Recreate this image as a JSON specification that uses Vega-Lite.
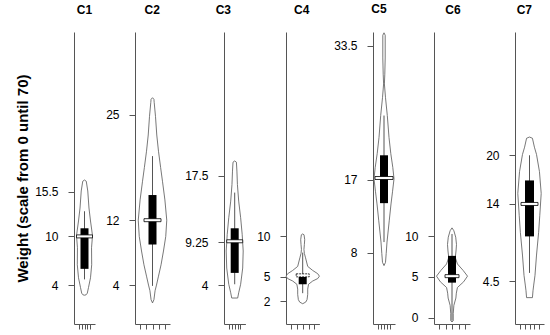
{
  "$schema": "https://vega.github.io/schema/vega-lite/v6.json",
  "padding": {"left": 15, "top": 3, "right": 0, "bottom": 0},
  "bounds": "flush",
  "spacing": 0,
  "datasets": {
    "violin": [
      {"g":"C1","v":16.95,"d":0},{"g":"C1","v":16.8,"d":0.22},{"g":"C1","v":15.6,"d":0.41},{"g":"C1","v":13.5,"d":0.56},{"g":"C1","v":11.9,"d":0.75},{"g":"C1","v":10.1,"d":1.0},{"g":"C1","v":8.6,"d":0.88},{"g":"C1","v":6.5,"d":0.9},{"g":"C1","v":4.9,"d":0.75},{"g":"C1","v":3.7,"d":0.5},{"g":"C1","v":3.0,"d":0.35},{"g":"C1","v":2.8,"d":0.2},{"g":"C1","v":2.75,"d":0},
      {"g":"C2","v":27.1,"d":0},{"g":"C2","v":26.9,"d":0.1},{"g":"C2","v":26.5,"d":0.12},{"g":"C2","v":24.8,"d":0.21},{"g":"C2","v":22.5,"d":0.3},{"g":"C2","v":20.5,"d":0.42},{"g":"C2","v":18.5,"d":0.57},{"g":"C2","v":16.8,"d":0.7},{"g":"C2","v":14.5,"d":0.87},{"g":"C2","v":12,"d":1.0},{"g":"C2","v":10,"d":0.93},{"g":"C2","v":8.2,"d":0.77},{"g":"C2","v":6.5,"d":0.6},{"g":"C2","v":5.1,"d":0.42},{"g":"C2","v":4,"d":0.28},{"g":"C2","v":3.3,"d":0.18},{"g":"C2","v":2.2,"d":0.1},{"g":"C2","v":1.8,"d":0},
      {"g":"C3","v":19.3,"d":0},{"g":"C3","v":19.15,"d":0.2},{"g":"C3","v":18.05,"d":0.26},{"g":"C3","v":16.4,"d":0.32},{"g":"C3","v":14.35,"d":0.47},{"g":"C3","v":12.3,"d":0.7},{"g":"C3","v":10.25,"d":0.88},{"g":"C3","v":8.2,"d":1.0},{"g":"C3","v":6.1,"d":0.94},{"g":"C3","v":4.1,"d":0.7},{"g":"C3","v":3.05,"d":0.47},{"g":"C3","v":2.4,"d":0.35},
      {"g":"C4","v":10.3,"d":0},{"g":"C4","v":10.2,"d":0.08},{"g":"C4","v":9.6,"d":0.12},{"g":"C4","v":9.0,"d":0.1},{"g":"C4","v":8.4,"d":0.075},{"g":"C4","v":7.9,"d":0.1},{"g":"C4","v":7.36,"d":0.17},{"g":"C4","v":6.3,"d":0.3},{"g":"C4","v":5.8,"d":0.6},{"g":"C4","v":5.4,"d":0.9},{"g":"C4","v":5.1,"d":1.0},{"g":"C4","v":4.8,"d":0.9},{"g":"C4","v":4.5,"d":0.6},{"g":"C4","v":4.1,"d":0.35},{"g":"C4","v":3.5,"d":0.3},{"g":"C4","v":2.85,"d":0.3},{"g":"C4","v":2.2,"d":0.26},{"g":"C4","v":1.9,"d":0.18},{"g":"C4","v":1.7,"d":0},
      {"g":"C5","v":35.1,"d":0},{"g":"C5","v":34.8,"d":0.12},{"g":"C5","v":32,"d":0.12},{"g":"C5","v":30,"d":0.08},{"g":"C5","v":28.8,"d":0.04},{"g":"C5","v":27.1,"d":0.15},{"g":"C5","v":24.9,"d":0.33},{"g":"C5","v":22.2,"d":0.5},{"g":"C5","v":20.2,"d":0.68},{"g":"C5","v":18.5,"d":0.88},{"g":"C5","v":17.1,"d":1.0},{"g":"C5","v":15.5,"d":0.85},{"g":"C5","v":14,"d":0.7},{"g":"C5","v":12,"d":0.53},{"g":"C5","v":9.3,"d":0.3},{"g":"C5","v":7.9,"d":0.22},{"g":"C5","v":6.8,"d":0.15},{"g":"C5","v":6.4,"d":0},
      {"g":"C6","v":11.05,"d":0},{"g":"C6","v":10.7,"d":0.12},{"g":"C6","v":9.9,"d":0.24},{"g":"C6","v":9.0,"d":0.29},{"g":"C6","v":8.2,"d":0.26},{"g":"C6","v":7.4,"d":0.21},{"g":"C6","v":6.6,"d":0.35},{"g":"C6","v":5.8,"d":0.72},{"g":"C6","v":5.1,"d":1.0},{"g":"C6","v":4.4,"d":0.75},{"g":"C6","v":3.7,"d":0.35},{"g":"C6","v":3.0,"d":0.28},{"g":"C6","v":2.4,"d":0.25},{"g":"C6","v":1.5,"d":0.12},{"g":"C6","v":0.5,"d":0.08},{"g":"C6","v":-0.4,"d":0.08},{"g":"C6","v":-0.55,"d":0},
      {"g":"C7","v":22.25,"d":0},{"g":"C7","v":22.1,"d":0.25},{"g":"C7","v":21,"d":0.42},{"g":"C7","v":20.1,"d":0.6},{"g":"C7","v":18,"d":0.85},{"g":"C7","v":15.3,"d":1.0},{"g":"C7","v":12.6,"d":0.88},{"g":"C7","v":10.5,"d":0.78},{"g":"C7","v":7.7,"d":0.6},{"g":"C7","v":5.2,"d":0.47},{"g":"C7","v":4.0,"d":0.36},{"g":"C7","v":3.3,"d":0.3},{"g":"C7","v":2.45,"d":0.25}
    ],
    "stats": [
      {"g":"C1","lo":4.7,"q1":6.0,"med":10.0,"q3":11.0,"hi":13.1},
      {"g":"C2","lo":3.9,"q1":9.0,"med":12.0,"q3":15.1,"hi":19.9},
      {"g":"C3","lo":4.1,"q1":5.5,"med":9.4,"q3":11.0,"hi":15.4},
      {"g":"C4","lo":3.0,"q1":4.1,"med":5.2,"q3":5.0,"hi":8.0},
      {"g":"C5","lo":9.3,"q1":14.1,"med":17.2,"q3":20.0,"hi":24.9},
      {"g":"C6","lo":-0.4,"q1":4.3,"med":5.1,"q3":7.6,"hi":10.3},
      {"g":"C7","lo":5.5,"q1":10.0,"med":14.0,"q3":16.9,"hi":20.0}
    ]
  },
  "hconcat": [
    {
      "width": 60.8, "height": 292,
      "title": {"text": "C1", "dx": -19.9},
      "resolve": {"scale": {"x": "independent"}},
      "layer": [
        {
          "data": {"name": "violin"},
          "transform": [{"filter": "datum.g == 'C1'"}],
          "mark": {"type": "area", "orient": "horizontal", "fill": "white", "stroke": "#555", "strokeWidth": 0.8},
          "encoding": {
            "y": {"field": "v", "type": "quantitative", "scale": {"domain": [-0.8, 35.2], "nice": false, "zero": false},
                  "axis": {"values": [4, 10, 15.5], "format": ".4~g", "title": "Weight (scale from 0 until 70)"}},
            "x": {"field": "d", "type": "quantitative", "stack": "center", "scale": {"domain": [0, 1], "range": [2.5, 18.5], "nice": false, "zero": false}, "axis": null}
          }
        },
        {
          "data": {"name": "stats"},
          "transform": [{"filter": "datum.g == 'C1'"}],
          "encoding": {"x": {"datum": 2, "type": "quantitative", "scale": {"domain": [0, 4], "range": [0, 21], "nice": false, "zero": false},
                             "axis": {"values": [0, 1, 2, 3, 4], "labels": false, "title": null}}},
          "layer": [
            {"mark": {"type": "rule", "color": "#555", "strokeWidth": 1}, "encoding": {"y": {"field": "lo", "type": "quantitative", "scale": {"domain": [-0.8, 35.2], "nice": false, "zero": false}, "axis": {"values": [4, 10, 15.5], "format": ".4~g", "title": "Weight (scale from 0 until 70)"}}, "y2": {"field": "hi"}}},
            {"mark": {"type": "bar", "color": "#000", "size": 8}, "encoding": {"y": {"field": "q1", "type": "quantitative", "scale": {"domain": [-0.8, 35.2], "nice": false, "zero": false}, "axis": {"values": [4, 10, 15.5], "format": ".4~g", "title": "Weight (scale from 0 until 70)"}}, "y2": {"field": "q3"}}},
            {"mark": {"type": "tick", "orient": "horizontal", "color": "white", "stroke": "#000", "strokeWidth": 0.8, "opacity": 1, "size": 16, "thickness": 3}, "encoding": {"y": {"field": "med", "type": "quantitative", "scale": {"domain": [-0.8, 35.2], "nice": false, "zero": false}, "axis": {"values": [4, 10, 15.5], "format": ".4~g", "title": "Weight (scale from 0 until 70)"}}}}
          ]
        }
      ]
    },
    {
      "width": 88.4, "height": 292,
      "title": {"text": "C2", "dx": -27},
      "resolve": {"scale": {"x": "independent"}},
      "layer": [
        {
          "data": {"name": "violin"},
          "transform": [{"filter": "datum.g == 'C2'"}],
          "mark": {"type": "area", "orient": "horizontal", "fill": "white", "stroke": "#555", "strokeWidth": 0.8},
          "encoding": {
            "y": {"field": "v", "type": "quantitative", "scale": {"domain": [-0.8, 35.2], "nice": false, "zero": false},
                  "axis": {"values": [4, 12, 25], "format": ".4~g", "title": null}},
            "x": {"field": "d", "type": "quantitative", "stack": "center", "scale": {"domain": [0, 1], "range": [3.25, 31.75], "nice": false, "zero": false}, "axis": null}
          }
        },
        {
          "data": {"name": "stats"},
          "transform": [{"filter": "datum.g == 'C2'"}],
          "encoding": {"x": {"datum": 2, "type": "quantitative", "scale": {"domain": [0, 4], "range": [0, 35], "nice": false, "zero": false},
                             "axis": {"values": [0, 1, 2, 3, 4], "labels": false, "title": null}}},
          "layer": [
            {"mark": {"type": "rule", "color": "#555", "strokeWidth": 1}, "encoding": {"y": {"field": "lo", "type": "quantitative", "scale": {"domain": [-0.8, 35.2], "nice": false, "zero": false}, "axis": {"values": [4, 12, 25], "format": ".4~g", "title": null}}, "y2": {"field": "hi"}}},
            {"mark": {"type": "bar", "color": "#000", "size": 8}, "encoding": {"y": {"field": "q1", "type": "quantitative", "scale": {"domain": [-0.8, 35.2], "nice": false, "zero": false}, "axis": {"values": [4, 12, 25], "format": ".4~g", "title": null}}, "y2": {"field": "q3"}}},
            {"mark": {"type": "tick", "orient": "horizontal", "color": "white", "stroke": "#000", "strokeWidth": 0.8, "opacity": 1, "size": 17, "thickness": 3}, "encoding": {"y": {"field": "med", "type": "quantitative", "scale": {"domain": [-0.8, 35.2], "nice": false, "zero": false}, "axis": {"values": [4, 12, 25], "format": ".4~g", "title": null}}}}
          ]
        }
      ]
    },
    {
      "width": 61.6, "height": 292,
      "title": {"text": "C3", "dx": -31.5},
      "resolve": {"scale": {"x": "independent"}},
      "layer": [
        {
          "data": {"name": "violin"},
          "transform": [{"filter": "datum.g == 'C3'"}],
          "mark": {"type": "area", "orient": "horizontal", "fill": "white", "stroke": "#555", "strokeWidth": 0.8},
          "encoding": {
            "y": {"field": "v", "type": "quantitative", "scale": {"domain": [-0.8, 35.2], "nice": false, "zero": false},
                  "axis": {"values": [4, 9.25, 17.5], "format": ".4~g", "title": null}},
            "x": {"field": "d", "type": "quantitative", "stack": "center", "scale": {"domain": [0, 1], "range": [2.2, 19.2], "nice": false, "zero": false}, "axis": null}
          }
        },
        {
          "data": {"name": "stats"},
          "transform": [{"filter": "datum.g == 'C3'"}],
          "encoding": {"x": {"datum": 2, "type": "quantitative", "scale": {"domain": [0, 4], "range": [0, 21.4], "nice": false, "zero": false},
                             "axis": {"values": [0, 1, 2, 3, 4], "labels": false, "title": null}}},
          "layer": [
            {"mark": {"type": "rule", "color": "#555", "strokeWidth": 1}, "encoding": {"y": {"field": "lo", "type": "quantitative", "scale": {"domain": [-0.8, 35.2], "nice": false, "zero": false}, "axis": {"values": [4, 9.25, 17.5], "format": ".4~g", "title": null}}, "y2": {"field": "hi"}}},
            {"mark": {"type": "bar", "color": "#000", "size": 8}, "encoding": {"y": {"field": "q1", "type": "quantitative", "scale": {"domain": [-0.8, 35.2], "nice": false, "zero": false}, "axis": {"values": [4, 9.25, 17.5], "format": ".4~g", "title": null}}, "y2": {"field": "q3"}}},
            {"mark": {"type": "tick", "orient": "horizontal", "color": "white", "stroke": "#000", "strokeWidth": 0.8, "opacity": 1, "size": 16, "thickness": 3}, "encoding": {"y": {"field": "med", "type": "quantitative", "scale": {"domain": [-0.8, 35.2], "nice": false, "zero": false}, "axis": {"values": [4, 9.25, 17.5], "format": ".4~g", "title": null}}}}
          ]
        }
      ]
    },
    {
      "width": 86.7, "height": 292,
      "title": {"text": "C4", "dx": -27.65},
      "resolve": {"scale": {"x": "independent"}},
      "layer": [
        {
          "data": {"name": "violin"},
          "transform": [{"filter": "datum.g == 'C4'"}],
          "mark": {"type": "area", "orient": "horizontal", "fill": "white", "stroke": "#555", "strokeWidth": 0.8},
          "encoding": {
            "y": {"field": "v", "type": "quantitative", "scale": {"domain": [-0.8, 35.2], "nice": false, "zero": false},
                  "axis": {"values": [2, 5, 10], "format": ".4~g", "title": null}},
            "x": {"field": "d", "type": "quantitative", "stack": "center", "scale": {"domain": [0, 1], "range": [0, 33.4], "nice": false, "zero": false}, "axis": null}
          }
        },
        {
          "data": {"name": "stats"},
          "transform": [{"filter": "datum.g == 'C4'"}],
          "encoding": {"x": {"datum": 2, "type": "quantitative", "scale": {"domain": [0, 4], "range": [0, 33.4], "nice": false, "zero": false},
                             "axis": {"values": [0, 1, 2, 3, 4], "labels": false, "title": null}}},
          "layer": [
            {"mark": {"type": "rule", "color": "#555", "strokeWidth": 1}, "encoding": {"y": {"field": "lo", "type": "quantitative", "scale": {"domain": [-0.8, 35.2], "nice": false, "zero": false}, "axis": {"values": [2, 5, 10], "format": ".4~g", "title": null}}, "y2": {"field": "hi"}}},
            {"mark": {"type": "bar", "color": "#000", "size": 8}, "encoding": {"y": {"field": "q1", "type": "quantitative", "scale": {"domain": [-0.8, 35.2], "nice": false, "zero": false}, "axis": {"values": [2, 5, 10], "format": ".4~g", "title": null}}, "y2": {"field": "q3"}}},
            {"mark": {"type": "tick", "orient": "horizontal", "color": "white", "stroke": "#000", "strokeWidth": 0.8, "strokeDash": [2, 1], "opacity": 1, "size": 13, "thickness": 3}, "encoding": {"y": {"field": "med", "type": "quantitative", "scale": {"domain": [-0.8, 35.2], "nice": false, "zero": false}, "axis": {"values": [2, 5, 10], "format": ".4~g", "title": null}}}}
          ]
        }
      ]
    },
    {
      "width": 61, "height": 292,
      "title": {"text": "C5", "dx": -24.5},
      "resolve": {"scale": {"x": "independent"}},
      "layer": [
        {
          "data": {"name": "violin"},
          "transform": [{"filter": "datum.g == 'C5'"}],
          "mark": {"type": "area", "orient": "horizontal", "fill": "white", "stroke": "#555", "strokeWidth": 0.8},
          "encoding": {
            "y": {"field": "v", "type": "quantitative", "scale": {"domain": [-0.8, 35.2], "nice": false, "zero": false},
                  "axis": {"values": [8, 17, 33.5], "format": ".4~g", "title": null}},
            "x": {"field": "d", "type": "quantitative", "stack": "center", "scale": {"domain": [0, 1], "range": [1, 21], "nice": false, "zero": false}, "axis": null}
          }
        },
        {
          "data": {"name": "stats"},
          "transform": [{"filter": "datum.g == 'C5'"}],
          "encoding": {"x": {"datum": 2, "type": "quantitative", "scale": {"domain": [0, 4], "range": [0, 22], "nice": false, "zero": false},
                             "axis": {"values": [0, 1, 2, 3, 4], "labels": false, "title": null}}},
          "layer": [
            {"mark": {"type": "rule", "color": "#555", "strokeWidth": 1}, "encoding": {"y": {"field": "lo", "type": "quantitative", "scale": {"domain": [-0.8, 35.2], "nice": false, "zero": false}, "axis": {"values": [8, 17, 33.5], "format": ".4~g", "title": null}}, "y2": {"field": "hi"}}},
            {"mark": {"type": "bar", "color": "#000", "size": 8}, "encoding": {"y": {"field": "q1", "type": "quantitative", "scale": {"domain": [-0.8, 35.2], "nice": false, "zero": false}, "axis": {"values": [8, 17, 33.5], "format": ".4~g", "title": null}}, "y2": {"field": "q3"}}},
            {"mark": {"type": "tick", "orient": "horizontal", "color": "white", "stroke": "#000", "strokeWidth": 0.8, "opacity": 1, "size": 18, "thickness": 3}, "encoding": {"y": {"field": "med", "type": "quantitative", "scale": {"domain": [-0.8, 35.2], "nice": false, "zero": false}, "axis": {"values": [8, 17, 33.5], "format": ".4~g", "title": null}}}}
          ]
        }
      ]
    },
    {
      "width": 80.7, "height": 292,
      "title": {"text": "C6", "dx": -21.35},
      "resolve": {"scale": {"x": "independent"}},
      "layer": [
        {
          "data": {"name": "violin"},
          "transform": [{"filter": "datum.g == 'C6'"}],
          "mark": {"type": "area", "orient": "horizontal", "fill": "white", "stroke": "#555", "strokeWidth": 0.8},
          "encoding": {
            "y": {"field": "v", "type": "quantitative", "scale": {"domain": [-0.8, 35.2], "nice": false, "zero": false},
                  "axis": {"values": [0, 5, 10], "format": ".4~g", "title": null}},
            "x": {"field": "d", "type": "quantitative", "stack": "center", "scale": {"domain": [0, 1], "range": [2.5, 33.5], "nice": false, "zero": false}, "axis": null}
          }
        },
        {
          "data": {"name": "stats"},
          "transform": [{"filter": "datum.g == 'C6'"}],
          "encoding": {"x": {"datum": 2, "type": "quantitative", "scale": {"domain": [0, 4], "range": [0, 36], "nice": false, "zero": false},
                             "axis": {"values": [0, 1, 2, 3, 4], "labels": false, "title": null}}},
          "layer": [
            {"mark": {"type": "rule", "color": "#555", "strokeWidth": 1}, "encoding": {"y": {"field": "lo", "type": "quantitative", "scale": {"domain": [-0.8, 35.2], "nice": false, "zero": false}, "axis": {"values": [0, 5, 10], "format": ".4~g", "title": null}}, "y2": {"field": "hi"}}},
            {"mark": {"type": "bar", "color": "#000", "size": 8}, "encoding": {"y": {"field": "q1", "type": "quantitative", "scale": {"domain": [-0.8, 35.2], "nice": false, "zero": false}, "axis": {"values": [0, 5, 10], "format": ".4~g", "title": null}}, "y2": {"field": "q3"}}},
            {"mark": {"type": "tick", "orient": "horizontal", "color": "white", "stroke": "#000", "strokeWidth": 0.8, "opacity": 1, "size": 14, "thickness": 3}, "encoding": {"y": {"field": "med", "type": "quantitative", "scale": {"domain": [-0.8, 35.2], "nice": false, "zero": false}, "axis": {"values": [0, 5, 10], "format": ".4~g", "title": null}}}}
          ]
        }
      ]
    },
    {
      "width": 30, "height": 292,
      "title": {"text": "C7", "dx": -5.7},
      "resolve": {"scale": {"x": "independent"}},
      "layer": [
        {
          "data": {"name": "violin"},
          "transform": [{"filter": "datum.g == 'C7'"}],
          "mark": {"type": "area", "orient": "horizontal", "fill": "white", "stroke": "#555", "strokeWidth": 0.8},
          "encoding": {
            "y": {"field": "v", "type": "quantitative", "scale": {"domain": [-0.8, 35.2], "nice": false, "zero": false},
                  "axis": {"values": [4.5, 14, 20], "format": ".4~g", "title": null}},
            "x": {"field": "d", "type": "quantitative", "stack": "center", "scale": {"domain": [0, 1], "range": [2.8, 26.2], "nice": false, "zero": false}, "axis": null}
          }
        },
        {
          "data": {"name": "stats"},
          "transform": [{"filter": "datum.g == 'C7'"}],
          "encoding": {"x": {"datum": 2, "type": "quantitative", "scale": {"domain": [0, 4], "range": [0, 29], "nice": false, "zero": false},
                             "axis": {"values": [0, 1, 2, 3, 4], "labels": false, "title": null}}},
          "layer": [
            {"mark": {"type": "rule", "color": "#555", "strokeWidth": 1}, "encoding": {"y": {"field": "lo", "type": "quantitative", "scale": {"domain": [-0.8, 35.2], "nice": false, "zero": false}, "axis": {"values": [4.5, 14, 20], "format": ".4~g", "title": null}}, "y2": {"field": "hi"}}},
            {"mark": {"type": "bar", "color": "#000", "size": 9}, "encoding": {"y": {"field": "q1", "type": "quantitative", "scale": {"domain": [-0.8, 35.2], "nice": false, "zero": false}, "axis": {"values": [4.5, 14, 20], "format": ".4~g", "title": null}}, "y2": {"field": "q3"}}},
            {"mark": {"type": "tick", "orient": "horizontal", "color": "white", "stroke": "#000", "strokeWidth": 0.8, "opacity": 1, "size": 17, "thickness": 3}, "encoding": {"y": {"field": "med", "type": "quantitative", "scale": {"domain": [-0.8, 35.2], "nice": false, "zero": false}, "axis": {"values": [4.5, 14, 20], "format": ".4~g", "title": null}}}}
          ]
        }
      ]
    }
  ],
  "config": {
    "font": "Liberation Sans",
    "view": {"stroke": null},
    "axis": {
      "grid": false,
      "domainColor": "#555",
      "tickColor": "#555",
      "labelColor": "#000",
      "labelFontSize": 12,
      "tickSize": 6,
      "titleColor": "#000"
    },
    "axisY": {
      "labelPadding": 10,
      "titleFontSize": 15,
      "titleFontWeight": "bold",
      "titlePadding": 4.5
    },
    "axisX": {"tickSize": 5},
    "title": {"fontSize": 12, "fontWeight": "bold", "frame": "group", "anchor": "middle", "offset": 15, "color": "#000"}
  }
}
